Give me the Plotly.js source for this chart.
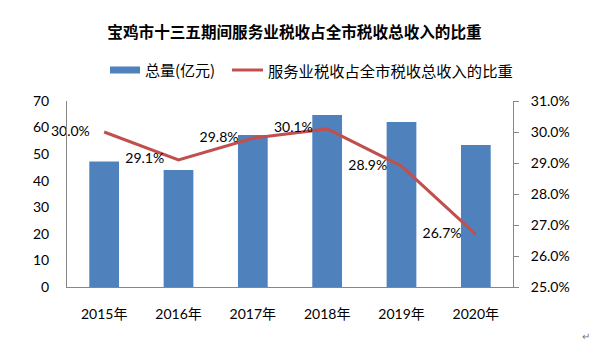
<!DOCTYPE html>
<html>
<head>
<meta charset="utf-8">
<script src="https://cdn.plot.ly/plotly-3.0.1.min.js"></script>
<style>html,body{margin:0;padding:0;background:#fff;}#chart{width:602px;height:343px;}</style>
</head>
<body>
<div id="chart"></div>
<script>
const years = ["2015年", "2016年", "2017年", "2018年", "2019年", "2020年"];
const totals = [47.2, 44.0, 57.2, 64.7, 62.1, 53.4];
const shares = [30.0, 29.1, 29.8, 30.1, 28.9, 26.7];
const shareLabels = ["30.0%", "29.1%", "29.8%", "30.1%", "28.9%", "26.7%"];
const barName = "总量(亿元)";
const lineName = "服务业税收占全市税收总收入的比重";
const titleText = "宝鸡市十三五期间服务业税收占全市税收总收入的比重";

const FONT = "Lato, 'Noto Sans CJK SC', sans-serif";
const CJK = "'Noto Sans CJK SC', sans-serif";

// plot area in pixels (for converting legend positions to paper coords)
const L = 67, R = 513, T = 101, B = 287;
const px = v => (v - L) / (R - L);
const py = v => (B - v) / (B - T);

const pad = "\u00a0\u00a0\u00a0\u00a0";
const traces = [
  {
    type: "bar", x: years, y: totals, name: barName,
    marker: {color: "#4F81BD"}, width: 0.4, yaxis: "y",
    hoverinfo: "skip"
  },
  {
    type: "scatter", mode: "lines+text", x: years, y: shares, name: lineName,
    yaxis: "y2", line: {color: "#C0504D", width: 3},
    text: shareLabels.map(s => s + pad), textposition: "middle left",
    textfont: {family: FONT, size: 14, color: "#000"},
    cliponaxis: false, hoverinfo: "skip"
  }
];

const layout = {
  width: 602, height: 343,
  margin: {l: L, r: 602 - R, t: T, b: 343 - B},
  paper_bgcolor: "#fff", plot_bgcolor: "#fff",
  font: {family: FONT, size: 14, color: "#000"},
  title: {text: "<b>" + titleText + "</b>", font: {family: CJK, size: 15.6, color: "#000"},
          x: 294.5 / 602, xanchor: "center", y: 1 - 33 / 343, yanchor: "middle", xref: "container", yref: "container"},
  showlegend: false,
  xaxis: {showgrid: false, showline: true, linecolor: "#868686", linewidth: 1, ticks: "",
          tickfont: {family: FONT, size: 14}, ticklabelstandoff: 14, fixedrange: true},
  yaxis: {range: [0, 70], dtick: 10, showgrid: false, showline: true, linecolor: "#868686",
          ticks: "", zeroline: false, tickfont: {family: FONT, size: 14}, ticklabelstandoff: 14},
  yaxis2: {range: [25, 31], dtick: 1, overlaying: "y", side: "right", showgrid: false,
           showline: true, linecolor: "#868686", ticks: "outside", ticklen: 5, tickcolor: "#868686",
           ticksuffix: "%", tickformat: ".1f", zeroline: false, tickfont: {family: FONT, size: 14}, ticklabelstandoff: 9},
  shapes: [
    {type: "rect", xref: "paper", yref: "paper", x0: px(110), x1: px(140), y0: py(73.5), y1: py(66.5),
     fillcolor: "#4F81BD", line: {width: 0}},
    {type: "line", xref: "paper", yref: "paper", x0: px(232), x1: px(263), y0: py(70), y1: py(70),
     line: {color: "#C0504D", width: 3}}
  ],
  annotations: [
    {text: barName, xref: "paper", yref: "paper", x: px(143), y: py(70), xanchor: "left", yanchor: "middle",
     showarrow: false, font: {family: CJK, size: 15, color: "#000"}},
    {text: lineName, xref: "paper", yref: "paper", x: px(266), y: py(70), xanchor: "left", yanchor: "middle",
     showarrow: false, font: {family: CJK, size: 15.3, color: "#000"}},
    {text: "↵", xref: "paper", yref: "paper", x: px(586), y: py(336), xanchor: "center", yanchor: "middle",
     showarrow: false, font: {size: 10, color: "#777"}}
  ]
};

Plotly.newPlot("chart", traces, layout, {staticPlot: true, displayModeBar: false});
</script>
</body>
</html>
